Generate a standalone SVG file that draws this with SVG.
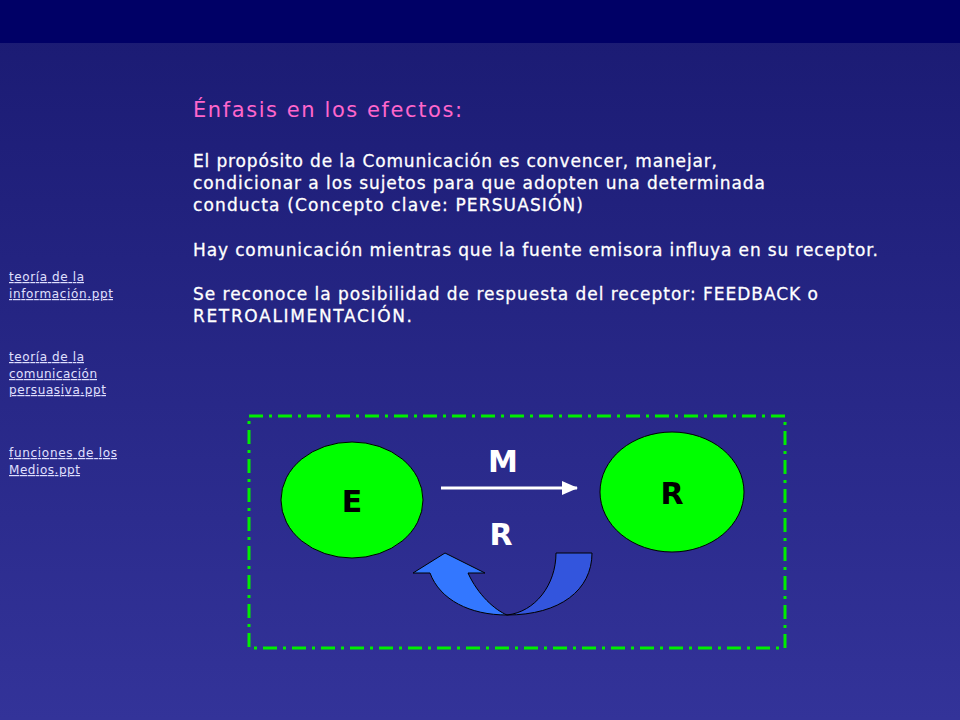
<svg xmlns="http://www.w3.org/2000/svg" width="960" height="720" viewBox="0 0 960 720">
<defs>
<linearGradient id="bg" x1="0" y1="0" x2="0" y2="1">
<stop offset="0" stop-color="#1a1a72"/><stop offset="1" stop-color="#333399"/>
</linearGradient>
<marker id="ah" markerWidth="16" markerHeight="14" refX="15" refY="7" orient="auto" markerUnits="userSpaceOnUse" viewBox="0 0 16 14">
<path d="M0,0 L16,7 L0,14 Z" fill="#fff"/>
</marker>
</defs>
<style>
.t{font-family:Verdana,"DejaVu Sans",sans-serif;fill:#fff;font-size:17px;stroke:#fff;stroke-width:0.3}
.l{font-family:Verdana,"DejaVu Sans",sans-serif;fill:#e0e0ff;font-size:12px;text-decoration:underline}
.b{font-family:Verdana,"DejaVu Sans",sans-serif;fill:#000;font-size:30px;font-weight:bold}
.w{font-family:Verdana,"DejaVu Sans",sans-serif;fill:#fff;font-size:30px;font-weight:bold}
.n{fill:#00ff00;stroke:#000;stroke-width:1}
</style>
<rect width="960" height="720" fill="url(#bg)"/>
<rect width="960" height="43" fill="#000066"/>
<text x="193" y="117" font-family="Verdana,'DejaVu Sans',sans-serif" font-size="21" fill="#ff66cc" textLength="269" lengthAdjust="spacing">Énfasis en los efectos:</text>
<text class="t" x="193" y="167" textLength="524" lengthAdjust="spacing">El propósito de la Comunicación es convencer, manejar,</text>
<text class="t" x="193" y="189" textLength="572" lengthAdjust="spacing">condicionar a los sujetos para que adopten una determinada</text>
<text class="t" x="193" y="211" textLength="390" lengthAdjust="spacing">conducta (Concepto clave: PERSUASIÓN)</text>
<text class="t" x="193" y="256" textLength="685" lengthAdjust="spacing">Hay comunicación mientras que la fuente emisora influya en su receptor.</text>
<text class="t" x="193" y="300" textLength="625" lengthAdjust="spacing">Se reconoce la posibilidad de respuesta del receptor: FEEDBACK o</text>
<text class="t" x="193" y="322" textLength="219" lengthAdjust="spacing">RETROALIMENTACIÓN.</text>
<text class="l" x="9" y="281" textLength="75" lengthAdjust="spacing">teoría de la</text>
<text class="l" x="9" y="298" textLength="104" lengthAdjust="spacing">información.ppt</text>
<text class="l" x="9" y="361" textLength="75" lengthAdjust="spacing">teoría de la</text>
<text class="l" x="9" y="378" textLength="88" lengthAdjust="spacing">comunicación</text>
<text class="l" x="9" y="394" textLength="97" lengthAdjust="spacing">persuasiva.ppt</text>
<text class="l" x="9" y="457" textLength="108" lengthAdjust="spacing">funciones de los</text>
<text class="l" x="9" y="474" textLength="71" lengthAdjust="spacing">Medios.ppt</text>
<rect x="249" y="416" width="536" height="232" fill="none" stroke="#00ee00" stroke-width="3" stroke-dasharray="14,6,3,6"/>
<g id="nodeE"><ellipse class="n" cx="352" cy="500" rx="71" ry="58"/><text class="b" x="352" y="512" text-anchor="middle">E</text></g>
<g id="nodeR"><ellipse class="n" cx="672" cy="492" rx="72" ry="60"/><text class="b" x="672" y="504" text-anchor="middle">R</text></g>
<g id="connectors">
<line x1="441" y1="488" x2="577" y2="488" stroke="#fff" stroke-width="3" marker-end="url(#ah)"/>
<text class="w" x="503" y="472" text-anchor="middle">M</text>
<text class="w" x="501" y="545" text-anchor="middle">R</text>
<path d="M556,553 L592,553 C592,590 560,615 507,615 C535,612 556,585 556,553 Z" fill="#3355dd" stroke="#000" stroke-width="1"/>
<path d="M507,615 C470,615 440,600 430,573 L413,573 L445,553 L485,573 L468,573 C478,595 495,610 507,615 Z" fill="#3377ff" stroke="#000" stroke-width="1"/>
</g>
</svg>
